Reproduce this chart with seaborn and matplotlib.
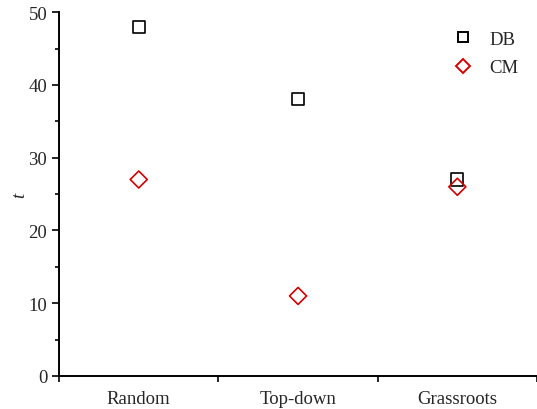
import matplotlib.pyplot as plt
import seaborn as sns
import pandas as pd
from matplotlib.lines import Line2D
from matplotlib.ticker import MultipleLocator, FixedLocator, NullFormatter

strategies = ["Random", "Top-down", "Grassroots"]
db_values = [48, 38, 27]
cm_values = [27, 11, 26]

df = pd.DataFrame({
    "strategy": strategies * 2,
    "t": db_values + cm_values,
    "method": ["DB"] * 3 + ["CM"] * 3,
})
df["x"] = df["strategy"].map({s: i for i, s in enumerate(strategies)})

RED = "#d40000"

sns.set_style("ticks")
plt.rcParams["font.family"] = ["Liberation Serif", "DejaVu Serif"]

fig = plt.figure(figsize=(5.37, 4.1), dpi=100)
ax = fig.add_axes([0.110, 0.0805, 0.89, 0.8875])

sns.scatterplot(
    data=df, x="x", y="t", hue="method", style="method",
    palette={"DB": "black", "CM": RED},
    markers={"DB": "s", "CM": "D"},
    s=75, linewidth=1.2, ax=ax, legend=False,
)
# hollow markers
ax.collections[0].set_facecolor("none")
ax.collections[0].set_edgecolors(["black"] * 3 + [RED] * 3)

ax.set_xlim(-0.5, 2.5)
ax.set_ylim(0, 50)
ax.xaxis.set_major_locator(FixedLocator([0, 1, 2]))
ax.set_xticklabels(strategies, fontsize=13.5)
ax.tick_params(axis="x", which="major", length=0, pad=10)
ax.xaxis.set_minor_locator(FixedLocator([-0.5, 0.5, 1.5, 2.5]))
ax.xaxis.set_minor_formatter(NullFormatter())
ax.tick_params(axis="x", which="minor", length=4, width=1.2, color="black")

ax.yaxis.set_major_locator(MultipleLocator(10))
ax.yaxis.set_minor_locator(MultipleLocator(5))
ax.tick_params(axis="y", which="major", length=5, width=1.2, labelsize=13.5, color="black")
ax.tick_params(axis="y", which="minor", length=3, width=1.2, color="black")

ax.set_xlabel("")
ax.set_ylabel("t", fontstyle="italic", fontsize=13.5)
ax.yaxis.set_label_coords(-0.065, 0.5)

for side in ["top", "right"]:
    ax.spines[side].set_visible(False)
for side in ["left", "bottom"]:
    ax.spines[side].set_linewidth(1.4)
    ax.spines[side].set_color("black")

handles = [
    Line2D([], [], marker="s", linestyle="none", markerfacecolor="none",
           markeredgecolor="black", markersize=7, markeredgewidth=1.4, label="DB"),
    Line2D([], [], marker="D", linestyle="none", markerfacecolor="none",
           markeredgecolor=RED, markersize=7, markeredgewidth=1.4, label="CM"),
]
ax.legend(handles=handles, loc="upper right", bbox_to_anchor=(0.997, 0.995),
          frameon=False, fontsize=13.5, handletextpad=0.4, labelspacing=0.6)

fig.savefig("out.png", dpi=100)
